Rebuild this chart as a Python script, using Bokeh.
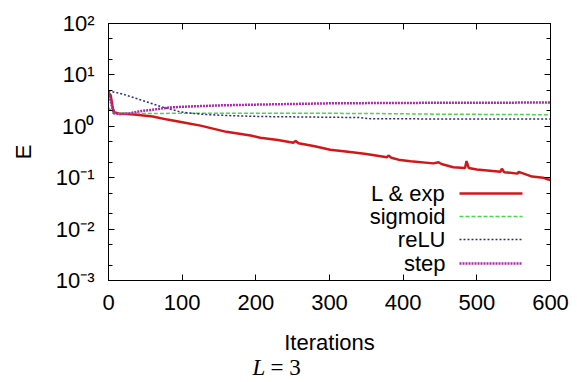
from bokeh.plotting import figure
from bokeh.layouts import column
from bokeh.models import (Range1d, FixedTicker, LinearAxis, LogAxis, Label, Arrow,
                          CustomJSTickFormatter)
from bokeh.embed import file_html
from bokeh.resources import INLINE

# ---------------- data ----------------
lexp_x = [0, 3, 6, 8, 15, 35, 60, 80, 100, 125, 160, 193, 206, 230, 251, 254, 258, 280, 301,
          328, 350, 378, 380, 384, 396, 410, 441, 448, 452, 468, 484, 486, 489, 500, 532,
          534, 537, 555, 557, 575, 590, 596, 600]
lexp_y = [4.5, 4.0, 2.2, 1.85, 1.78, 1.7, 1.55, 1.35, 1.2, 1.03, 0.78, 0.66, 0.6, 0.54, 0.48,
          0.52, 0.47, 0.41, 0.35, 0.315, 0.29, 0.25, 0.27, 0.245, 0.22, 0.21, 0.19, 0.2, 0.185,
          0.16, 0.155, 0.21, 0.155, 0.145, 0.13, 0.15, 0.128, 0.12, 0.13, 0.105, 0.1, 0.093, 0.09]

sigmoid_x = [0, 6, 50, 200, 350, 450, 600]
sigmoid_y = [2.3, 1.8, 1.78, 1.8, 1.78, 1.72, 1.68]

relu_x = [0, 20, 40, 70, 98, 125, 160, 206, 300, 340, 356, 600]
relu_y = [4.9, 4.2, 3.4, 2.45, 1.9, 1.72, 1.62, 1.55, 1.5, 1.48, 1.4, 1.38]

step_x = [0, 3, 7, 15, 30, 43, 60, 80, 100, 150, 206, 300, 400, 600]
step_y = [4.5, 3.0, 1.8, 1.72, 1.8, 1.97, 2.1, 2.3, 2.4, 2.55, 2.65, 2.8, 2.85, 2.9]

series_names = ["L & exp", "sigmoid", "reLU", "step"]

x_ticks = [0, 100, 200, 300, 400, 500, 600]
y_ticks = [1e-3, 1e-2, 1e-1, 1e0, 1e1, 1e2]
y_tick_labels = ["10\u207b\u00b3", "10\u207b\u00b2", "10\u207b\u00b9", "10\u2070", "10\u00b9", "10\u00b2"]
y_minor_ticks = [2e-3, 5e-3, 2e-2, 5e-2, 2e-1, 5e-1, 2e0, 5e0, 2e1, 5e1]

x_label = "Iterations"
y_label = "E"
caption_var = "L"
caption_rest = "= 3"

# ---------------- styling ----------------
FONT = "Liberation Sans"
FS = "22px"
colors = ["#d01818", "#4fd24f", "#2a2a8c", "#b028b0"]
widths = [2.5, 1.5, 1.5, 2.5]
dashes = ["solid", "4 2", "2 2", "2 1"]

p = figure(frame_width=442, frame_height=257,
           min_border_left=108, min_border_right=27, min_border_top=23, min_border_bottom=45,
           output_backend="svg", toolbar_location=None,
           y_axis_type="log", x_range=Range1d(0, 600), y_range=Range1d(1e-3, 1e2))
p.xgrid.visible = False
p.ygrid.visible = False
p.outline_line_color = "black"
p.outline_line_width = 1
p.background_fill_color = "white"
p.border_fill_color = "white"

xs = [lexp_x, sigmoid_x, relu_x, step_x]
ys = [lexp_y, sigmoid_y, relu_y, step_y]
for xv, yv, c, w, d in zip(xs, ys, colors, widths, dashes):
    p.line(xv, yv, line_color=c, line_width=w, line_dash=d)

bottom = p.xaxis[0]
left = p.yaxis[0]

blank = CustomJSTickFormatter(code="return ''")
top = LinearAxis(ticker=FixedTicker(ticks=x_ticks), formatter=blank)
right = LogAxis(ticker=FixedTicker(ticks=y_ticks, minor_ticks=y_minor_ticks), formatter=blank)
p.add_layout(top, "above")
p.add_layout(right, "right")

bottom.ticker = FixedTicker(ticks=x_ticks)
left.ticker = FixedTicker(ticks=y_ticks, minor_ticks=y_minor_ticks)
left.major_label_overrides = {t: l for t, l in zip(y_ticks, y_tick_labels)}
left.axis_label = y_label

for ax in [bottom, left, top, right]:
    ax.axis_line_color = "black"
    ax.major_tick_line_color = "black"
    ax.minor_tick_line_color = "black"
    ax.major_tick_in = 6
    ax.major_tick_out = 0
    ax.minor_tick_in = 4
    ax.minor_tick_out = 0
    ax.major_label_text_font = FONT
    ax.major_label_text_font_size = FS
    ax.major_label_text_color = "black"
    ax.axis_label_text_font = FONT
    ax.axis_label_text_font_size = FS
    ax.axis_label_text_font_style = "normal"
    ax.axis_label_text_color = "black"
for ax in [top, right]:
    ax.major_label_text_font_size = "0px"
    ax.major_label_standoff = 0

bottom.major_label_standoff = 14
left.major_label_standoff = 14
left.axis_label_standoff = 17

# ---------------- legend (label left of sample, like gnuplot) ----------------
rows_y = [87, 64, 41, 17]
for name, c, w, d, ry in zip(series_names, colors, widths, dashes, rows_y):
    p.add_layout(Label(x=337, y=ry, x_units="screen", y_units="screen", text=name,
                       text_align="right", text_baseline="middle",
                       text_font=FONT, text_font_size=FS, text_color="black"))
    p.add_layout(Arrow(end=None, x_start=351, y_start=ry, x_end=414, y_end=ry,
                       start_units="screen", end_units="screen",
                       line_color=c, line_width=w, line_dash=d))

# ---------------- x-axis title + caption strip (frame aligned with the chart frame) ----------------
cap = figure(width=577, height=57, output_backend="svg", toolbar_location=None,
             x_axis_location=None, y_axis_location=None,
             min_border=0, x_range=Range1d(0, 1), y_range=Range1d(0, 1))
cap.grid.visible = False
cap.outline_line_color = None
cap.add_layout(Label(x=221, y=40, x_units="screen", y_units="screen", text=x_label,
                     text_align="center", text_baseline="middle",
                     text_font=FONT, text_font_size=FS, text_color="black"))
cap.add_layout(Label(x=144, y=15, x_units="screen", y_units="screen", text=caption_var,
                     text_align="left", text_baseline="middle", text_font="Liberation Serif",
                     text_font_style="italic", text_font_size="23px", text_color="black"))
cap.add_layout(Label(x=162, y=15, x_units="screen", y_units="screen", text=caption_rest,
                     text_align="left", text_baseline="middle", text_font="Liberation Serif",
                     text_font_size="23px", text_color="black"))

layout = column(p, cap, spacing=0)
open("out.html", "w").write(file_html(layout, INLINE))
